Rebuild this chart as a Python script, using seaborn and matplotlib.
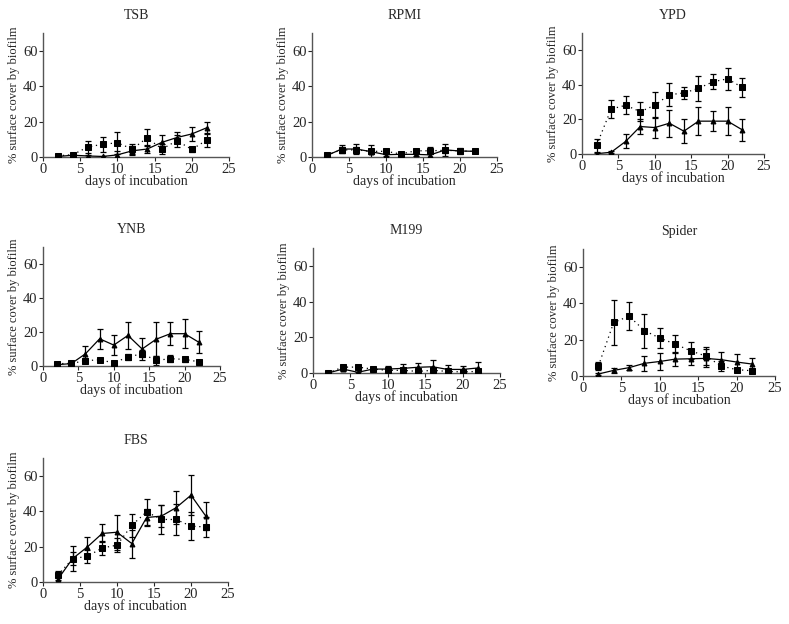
import numpy as np
import pandas as pd
import matplotlib
matplotlib.use('Agg')
import matplotlib.pyplot as plt
import seaborn as sns

# dias de incubação
days = [2, 4, 6, 8, 10, 12, 14, 16, 18, 20, 22]

# TSB
tsb_tri = [0.3, 1.0, 0.6, 0.3, 1.2, 3.5, 4.5, 8.3, 11.0, 13.0, 16.5]
tsb_tri_err = [0.3, 0.5, 0.5, 0.3, 2.0, 2.5, 2.5, 4.0, 3.0, 4.0, 3.5]
tsb_sq = [0.7, 1.3, 5.6, 7.2, 8.0, 4.5, 10.8, 4.5, 9.2, 4.3, 9.5]
tsb_sq_err = [0.5, 0.6, 3.2, 4.2, 6.2, 3.0, 4.8, 3.0, 3.5, 1.5, 4.0]

# RPMI
rpmi_tri = [0.8, 4.5, 4.5, 3.0, 1.3, 1.5, 1.5, 1.2, 4.0, 3.4, 3.2]
rpmi_tri_err = [0.5, 2.5, 3.0, 4.0, 1.0, 0.8, 1.0, 1.0, 3.5, 1.5, 0.8]
rpmi_sq = [1.3, 4.0, 4.0, 3.2, 3.2, 1.7, 3.5, 3.5, 3.8, 3.4, 3.2]
rpmi_sq_err = [0.5, 1.5, 1.5, 1.5, 1.0, 0.5, 1.0, 2.0, 1.5, 1.0, 0.8]

# YPD
ypd_tri = [0.2, 1.0, 7.3, 15.9, 15.3, 17.8, 13.2, 19.0, 19.0, 19.0, 14.0]
ypd_tri_err = [0.3, 0.5, 4.0, 4.5, 6.0, 7.7, 6.9, 8.0, 5.8, 8.2, 6.5]
ypd_sq = [5.0, 26.0, 28.2, 24.5, 28.2, 34.3, 35.3, 38.0, 41.8, 43.5, 38.5]
ypd_sq_err = [3.6, 5.2, 5.2, 5.6, 7.6, 6.5, 3.3, 7.3, 4.4, 6.3, 5.7]

# YNB
ynb_tri = [0.8, 1.4, 7.2, 16.0, 12.3, 18.0, 10.0, 15.8, 19.0, 19.0, 14.0]
ynb_tri_err = [0.4, 0.4, 4.5, 5.9, 5.9, 7.8, 6.4, 10.0, 6.8, 8.4, 6.5]
ynb_sq = [1.4, 1.5, 3.1, 3.7, 1.8, 5.3, 7.2, 3.3, 4.3, 3.9, 2.5]
ynb_sq_err = [0.5, 0.4, 1.5, 1.0, 0.5, 2.0, 2.0, 2.5, 2.0, 1.5, 0.5]

# M199
m199_tri = [0.0, 2.2, 0.4, 2.2, 2.2, 2.6, 3.2, 3.5, 2.0, 2.0, 2.8]
m199_tri_err = [0.2, 0.8, 0.4, 0.8, 2.0, 2.5, 2.5, 4.0, 2.5, 2.0, 3.5]
m199_sq = [0.0, 3.3, 3.3, 2.2, 1.5, 1.5, 0.9, 1.5, 0.9, 0.6, 0.9]
m199_sq_err = [0.2, 0.8, 0.8, 0.6, 0.8, 0.8, 0.8, 1.0, 0.6, 0.6, 0.6]

# Spider
spider_tri = [1.1, 3.1, 4.6, 7.0, 8.0, 9.3, 9.5, 9.7, 9.0, 7.7, 6.6]
spider_tri_err = [0.5, 1.5, 1.5, 4.0, 4.5, 4.0, 3.5, 5.0, 4.0, 4.5, 3.3]
spider_sq = [5.5, 29.5, 33.0, 25.0, 20.9, 17.6, 13.9, 11.0, 5.5, 3.5, 2.9]
spider_sq_err = [2.0, 12.2, 7.7, 9.4, 5.5, 5.1, 4.8, 5.1, 2.5, 1.0, 1.0]

# FBS
fbs_tri = [1.5, 13.2, 19.8, 27.4, 28.1, 21.7, 36.4, 37.2, 42.0, 49.0, 37.2]
fbs_tri_err = [2.0, 7.0, 5.7, 5.1, 10.0, 7.9, 5.0, 6.0, 9.4, 11.3, 7.7]
fbs_sq = [3.8, 13.2, 14.5, 19.2, 20.8, 32.0, 39.6, 35.3, 35.3, 31.5, 31.1]
fbs_sq_err = [2.5, 3.5, 3.5, 4.0, 4.0, 6.5, 7.5, 8.0, 8.5, 8.0, 5.5]

paineis = [
    ('TSB', tsb_tri, tsb_tri_err, tsb_sq, tsb_sq_err, [43, 33, 229, 157]),
    ('RPMI', rpmi_tri, rpmi_tri_err, rpmi_sq, rpmi_sq_err, [312, 33, 497, 157]),
    ('YPD', ypd_tri, ypd_tri_err, ypd_sq, ypd_sq_err, [582, 33, 764, 154]),
    ('YNB', ynb_tri, ynb_tri_err, ynb_sq, ynb_sq_err, [43, 247, 220, 366]),
    ('M199', m199_tri, m199_tri_err, m199_sq, m199_sq_err, [313, 248, 500, 373]),
    ('Spider', spider_tri, spider_tri_err, spider_sq, spider_sq_err, [583, 249, 775, 376]),
    ('FBS', fbs_tri, fbs_tri_err, fbs_sq, fbs_sq_err, [43, 458, 228, 582]),
]

sns.set_style('ticks')
plt.rcParams['font.family'] = ['Liberation Serif', 'DejaVu Serif']
plt.rcParams['font.size'] = 10
plt.rcParams['axes.linewidth'] = 1.0

W, H = 789, 624
fig = plt.figure(figsize=(W / 100, H / 100), dpi=100)

for nome, tri, tri_err, sq, sq_err, (x0, y0, x1, y1) in paineis:
    ax = fig.add_axes([x0 / W, 1 - y1 / H, (x1 - x0) / W, (y1 - y0) / H])
    df = pd.DataFrame({'dia': days, 'tri': tri, 'sq': sq})

    # série com quadrados (linha pontilhada)
    ax.errorbar(days, sq, yerr=sq_err, fmt='none', ecolor='black',
                elinewidth=0.9, capsize=2.5, capthick=0.9, zorder=2)
    sns.lineplot(data=df, x='dia', y='sq', ax=ax, color='black',
                 linestyle=(0, (1, 3)), linewidth=0.9, marker='s',
                 markersize=5, markeredgecolor='black', zorder=3)

    # série com triângulos (linha contínua)
    ax.errorbar(days, tri, yerr=tri_err, fmt='none', ecolor='black',
                elinewidth=0.9, capsize=2.5, capthick=0.9, zorder=2)
    sns.lineplot(data=df, x='dia', y='tri', ax=ax, color='black',
                 linestyle='-', linewidth=0.9, marker='^',
                 markersize=3.5, markeredgecolor='black', zorder=4)

    ax.set_xlim(0, 25)
    ax.set_ylim(0, 70)
    ax.set_xticks([0, 5, 10, 15, 20, 25])
    ax.set_yticks([0, 20, 40, 60])
    ax.tick_params(length=3, width=0.8, pad=1, labelsize=10.5)
    ax.set_title(nome, fontsize=10, pad=10)
    ax.set_xlabel('days of incubation', fontsize=10, labelpad=-1)
    ax.set_ylabel('% surface cover by biofilm', fontsize=9, labelpad=2)
    for s in ['left', 'bottom']:
        ax.spines[s].set_color('#555555')
    sns.despine(ax=ax)

fig.savefig('out.png', dpi=100)
